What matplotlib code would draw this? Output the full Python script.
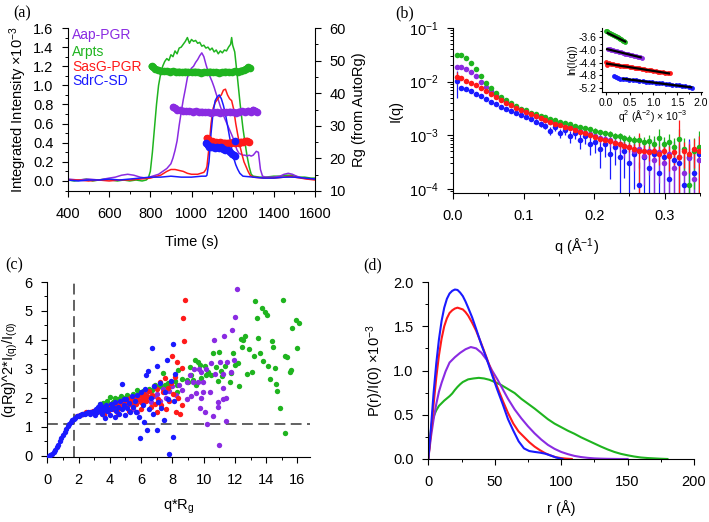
import matplotlib
matplotlib.use("Agg")
import matplotlib.pyplot as plt
import numpy as np
from matplotlib.ticker import MultipleLocator

plt.rcParams['font.family'] = ['Liberation Sans', 'DejaVu Sans']
plt.rcParams['mathtext.default'] = 'regular'
plt.rcParams['xtick.direction'] = 'out'
plt.rcParams['ytick.direction'] = 'out'

PURPLE = '#8a2be2'
GREEN = '#1fb41f'
RED = '#ff1a1a'
BLUE = '#1a1aff'

names = ['Aap-PGR', 'Arpts', 'SasG-PGR', 'SdrC-SD']
colors = [PURPLE, GREEN, RED, BLUE]

# ---------------- (a) elution profiles ----------------
t_green = [400, 430, 460, 490, 520, 550, 580, 610, 640, 670, 700, 730, 760, 780, 790, 800, 810, 820,
           830, 840, 850, 860, 870, 880, 890, 900, 910, 920, 930, 940, 950, 960, 970, 980, 990, 1000,
           1010, 1020, 1030, 1040, 1050, 1060, 1070, 1080, 1090, 1100, 1110, 1120, 1130, 1140, 1150,
           1160, 1170, 1180, 1190, 1195, 1200, 1210, 1220, 1236, 1250, 1260, 1270, 1280, 1290, 1300,
           1330, 1360, 1400, 1430, 1460, 1490, 1520, 1550, 1580, 1600]
i_green = [0.01, 0.0, 0.01, 0.02, 0.0, 0.01, 0.02, 0.01, 0.0, 0.01, 0.0, 0.01, 0.0, 0.01, 0.03, 0.1,
           0.3, 0.55, 0.8, 1.0, 1.12, 1.2, 1.25, 1.28, 1.26, 1.32, 1.3, 1.36, 1.33, 1.39, 1.4, 1.43,
           1.46, 1.5, 1.44, 1.48, 1.46, 1.47, 1.44, 1.45, 1.41, 1.42, 1.39, 1.4, 1.37, 1.39, 1.35,
           1.37, 1.33, 1.36, 1.34, 1.37, 1.36, 1.4, 1.43, 1.5, 1.42, 1.35, 1.15, 0.81, 0.55, 0.4,
           0.26, 0.15, 0.07, 0.05, 0.04, 0.04, 0.05, 0.05, 0.06, 0.06, 0.04, 0.04, 0.03, 0.03]

t_purple = [400, 450, 500, 550, 600, 630, 660, 690, 720, 750, 780, 810, 840, 860, 880, 900, 910, 920,
            930, 940, 950, 960, 970, 980, 990, 1000, 1010, 1020, 1030, 1040, 1050, 1060, 1070, 1080,
            1090, 1100, 1110, 1120, 1130, 1140, 1150, 1160, 1170, 1180, 1190, 1200, 1210, 1220, 1230,
            1240, 1250, 1260, 1270, 1280, 1290, 1300, 1315, 1325, 1335, 1345, 1360, 1400, 1430, 1450,
            1470, 1490, 1510, 1540, 1570, 1600]
i_purple = [0.02, 0.01, 0.02, 0.01, 0.03, 0.04, 0.06, 0.07, 0.06, 0.04, 0.03, 0.05, 0.07, 0.1, 0.13,
            0.18, 0.24, 0.32, 0.42, 0.58, 0.72, 0.85, 0.96, 1.08, 1.15, 1.18, 1.2, 1.24, 1.27, 1.31,
            1.34, 1.3, 1.22, 1.15, 1.09, 1.04, 0.98, 0.91, 0.85, 0.78, 0.72, 0.66, 0.61, 0.56, 0.51,
            0.46, 0.4, 0.33, 0.29, 0.28, 0.27, 0.27, 0.26, 0.27, 0.26, 0.27, 0.31, 0.3, 0.12, 0.05,
            0.04, 0.04, 0.05, 0.07, 0.08, 0.07, 0.05, 0.03, 0.02, 0.02]

t_red = [400, 450, 500, 550, 600, 650, 700, 750, 800, 850, 880, 900, 920, 940, 960, 980, 1000, 1030,
         1060, 1070, 1075, 1085, 1095, 1105, 1115, 1125, 1135, 1145, 1155, 1165, 1175, 1185, 1195,
         1205, 1215, 1225, 1235, 1245, 1255, 1265, 1275, 1285, 1300, 1350, 1400, 1450, 1480, 1500,
         1530, 1560, 1600]
i_red = [0.01, 0.01, 0.0, 0.01, 0.0, 0.01, 0.01, 0.02, 0.03, 0.06, 0.1, 0.12, 0.12, 0.11, 0.1, 0.08,
         0.07, 0.07, 0.09, 0.12, 0.15, 0.35, 0.6, 0.76, 0.82, 0.85, 0.88, 0.9, 0.95, 0.96, 0.9, 0.86,
         0.84, 0.75, 0.6, 0.48, 0.37, 0.28, 0.2, 0.15, 0.1, 0.06, 0.04, 0.03, 0.03, 0.04, 0.05, 0.04,
         0.03, 0.02, 0.01]

t_blue = [400, 450, 500, 550, 600, 650, 700, 750, 800, 850, 900, 950, 1000, 1050, 1070, 1075, 1085,
          1095, 1105, 1115, 1125, 1135, 1145, 1155, 1165, 1175, 1185, 1195, 1205, 1215, 1225, 1235,
          1250, 1300, 1350, 1400, 1450, 1500, 1550, 1600]
i_blue = [0.01, 0.0, 0.01, 0.01, 0.02, 0.01, 0.02, 0.03, 0.04, 0.04, 0.05, 0.04, 0.04, 0.05, 0.05,
          0.06, 0.2, 0.5, 0.72, 0.84, 0.88, 0.9, 0.86, 0.79, 0.7, 0.58, 0.46, 0.34, 0.24, 0.17, 0.12,
          0.08, 0.05, 0.04, 0.03, 0.03, 0.04, 0.04, 0.03, 0.02]

# Rg from AutoRg (right axis)
trg_green = [806, 815, 825, 835, 850, 865, 880, 895, 910, 925, 940, 955, 970, 985, 1000, 1015, 1030,
             1045, 1060, 1075, 1090, 1105, 1120, 1135, 1150, 1165, 1180, 1195, 1210, 1225, 1240, 1255,
             1265, 1275, 1284]
rg_green = [48.2, 47.9, 47.5, 47.2, 46.9, 46.7, 46.8, 46.6, 46.7, 46.5, 46.6, 46.4, 46.6, 46.5, 46.4,
            46.6, 46.5, 46.3, 46.5, 46.4, 46.6, 46.4, 46.5, 46.3, 46.4, 46.6, 46.5, 46.4, 46.7, 46.6,
            46.9, 47.1, 47.5, 47.9, 47.6]
trg_purple = [912, 920, 930, 945, 960, 975, 990, 1005, 1020, 1035, 1050, 1065, 1080, 1095, 1110, 1125,
              1140, 1155, 1170, 1185, 1200, 1215, 1230, 1245, 1260, 1275, 1290, 1300, 1310, 1320]
rg_purple = [35.8, 35.4, 35.0, 34.7, 34.6, 34.4, 34.5, 34.3, 34.4, 34.2, 34.3, 34.1, 34.2, 34.0, 34.2,
             34.1, 34.0, 34.2, 34.1, 34.3, 34.2, 34.0, 34.3, 34.5, 34.2, 34.6, 34.3, 34.9, 34.6, 34.2]
trg_red = [1074, 1082, 1090, 1100, 1110, 1120, 1130, 1140, 1150, 1160, 1170, 1180, 1190, 1200, 1210,
           1220, 1230, 1240, 1250, 1260, 1270, 1278]
rg_red = [26.2, 25.8, 25.4, 25.2, 25.0, 24.9, 24.8, 24.9, 24.7, 24.8, 24.6, 24.8, 24.7, 24.9, 24.8,
          25.0, 24.8, 25.1, 24.9, 25.2, 25.4, 25.0]
trg_blue = [1071, 1078, 1085, 1095, 1105, 1115, 1125, 1135, 1145, 1155, 1165, 1175, 1185, 1195, 1205,
            1212]
rg_blue = [24.6, 24.0, 23.6, 23.4, 23.6, 23.3, 23.5, 23.2, 23.4, 23.0, 22.7, 22.5, 22.0, 21.5, 21.0,
           20.6]

# ---------------- (b) scattering profiles (I in units of 1e-3) ----------------
q = [0.005, 0.012, 0.019, 0.026, 0.033, 0.040, 0.047, 0.054, 0.061, 0.068, 0.075, 0.082, 0.089,
     0.096, 0.103, 0.110, 0.117, 0.124, 0.131, 0.138, 0.145, 0.152, 0.159, 0.166, 0.173, 0.180,
     0.187, 0.194, 0.201, 0.208, 0.215, 0.222, 0.229, 0.236, 0.243, 0.250, 0.257, 0.264, 0.271,
     0.278, 0.285, 0.292, 0.299, 0.306, 0.313, 0.320, 0.327, 0.334, 0.341, 0.348]
iq_green = [31, 32, 28, 22.5, 17, 12.8, 9.6, 7.6, 6.2, 5.2, 4.5, 3.95, 3.5, 3.15, 2.9, 2.65, 2.45,
            2.3, 2.15, 2.0, 1.9, 1.8, 1.7, 1.6, 1.5, 1.45, 1.38, 1.3, 1.22, 1.16, 1.1, 1.05, 0.98,
            0.95, 0.88, 0.85, 0.8, 0.82, 0.74, 0.78, 0.7, 0.9, 0.68, 0.75, 0.6, 0.85, 0.55, 0.12,
            0.5, 0.6]
err_green = [1.5, 0.8, 0.5, 0.4, 0.3, 0.25, 0.2, 0.15, 0.12, 0.1, 0.1, 0.08, 0.08, 0.07, 0.07, 0.07,
             0.07, 0.07, 0.07, 0.07, 0.08, 0.08, 0.08, 0.09, 0.09, 0.1, 0.1, 0.1, 0.12, 0.12, 0.12,
             0.14, 0.14, 0.15, 0.15, 0.16, 0.18, 0.2, 0.2, 0.22, 0.25, 0.4, 0.25, 0.3, 0.3, 0.45,
             0.35, 0.3, 0.4, 0.6]
iq_purple = [18.5, 18.5, 17, 15, 12.5, 10, 8.0, 6.6, 5.6, 4.8, 4.2, 3.7, 3.3, 3.0, 2.7, 2.5, 2.3,
             2.1, 1.95, 1.8, 1.7, 1.6, 1.45, 1.4, 1.3, 1.2, 1.1, 1.05, 0.95, 0.9, 0.85, 0.8, 0.72,
             0.7, 0.62, 0.6, 0.5, 0.55, 0.42, 0.5, 0.35, 0.48, 0.3, 0.45, 0.25, 0.4, 0.2, 0.38, 0.15,
             0.35]
err_purple = [1.0, 0.6, 0.4, 0.3, 0.25, 0.2, 0.15, 0.12, 0.1, 0.1, 0.08, 0.08, 0.08, 0.08, 0.08,
              0.08, 0.09, 0.09, 0.1, 0.1, 0.1, 0.11, 0.12, 0.12, 0.13, 0.14, 0.15, 0.16, 0.17, 0.18,
              0.2, 0.2, 0.22, 0.24, 0.25, 0.26, 0.28, 0.3, 0.3, 0.32, 0.3, 0.35, 0.3, 0.4, 0.35, 0.45,
              0.3, 0.4, 0.35, 0.4]
iq_red = [12, 11.5, 10.5, 9.5, 8.6, 7.6, 6.7, 5.8, 5.1, 4.5, 4.0, 3.6, 3.25, 2.95, 2.7, 2.45, 2.25,
          2.1, 1.95, 1.8, 1.65, 1.55, 1.45, 1.35, 1.25, 1.15, 1.08, 1.0, 0.92, 0.87, 0.82, 0.77,
          0.72, 0.68, 0.64, 0.6, 0.56, 0.5, 0.52, 0.48, 0.5, 0.45, 0.5, 0.42, 0.48, 0.4, 0.5, 0.45,
          0.55, 0.5]
err_red = [3.0, 0.5, 0.3, 0.2, 0.15, 0.12, 0.1, 0.08, 0.07, 0.06, 0.05, 0.05, 0.05, 0.05, 0.05,
           0.05, 0.05, 0.05, 0.05, 0.05, 0.06, 0.06, 0.06, 0.06, 0.07, 0.07, 0.07, 0.08, 0.08, 0.08,
           0.09, 0.09, 0.1, 0.1, 0.11, 0.12, 0.12, 0.62, 0.14, 0.15, 0.16, 0.17, 0.18, 0.2, 0.2,
           1.55, 0.25, 0.25, 0.3, 0.45]
iq_blue = [10.5, 7.7, 7.2, 6.6, 6.0, 5.3, 4.7, 4.2, 3.8, 3.4, 3.1, 2.85, 2.6, 2.4, 2.2, 2.0, 1.8,
           1.6, 1.5, 1.2, 1.4, 1.1, 1.25, 0.95, 1.1, 0.8, 0.95, 0.7, 0.75, 0.55, 0.7, 0.45, 0.6,
           0.4, 0.5, 0.3, 0.45, 0.12, 0.4, 0.25, 0.45, 0.2, 0.4, 0.15, 0.35, 0.3, 0.12, 0.4, 0.2,
           0.45]
err_blue = [5.5, 0.7, 0.5, 0.4, 0.3, 0.25, 0.2, 0.18, 0.16, 0.15, 0.15, 0.15, 0.15, 0.15, 0.15,
            0.16, 0.17, 0.18, 0.2, 0.2, 0.22, 0.22, 0.24, 0.24, 0.25, 0.25, 0.26, 0.27, 0.28, 0.3,
            0.3, 0.3, 0.32, 0.32, 0.34, 0.3, 0.35, 0.2, 0.38, 0.3, 0.4, 0.3, 0.4, 0.3, 0.42, 0.4,
            0.3, 0.45, 0.35, 0.5]

# Guinier inset: q^2 (x1e-3) vs ln(I)
gq_green = [0.0, 0.02, 0.04, 0.06, 0.08, 0.10, 0.12, 0.14, 0.16, 0.18, 0.20, 0.22, 0.24, 0.26,
            0.28, 0.30, 0.32, 0.34, 0.36, 0.38, 0.40]
gl_green = [-3.38, -3.41, -3.44, -3.46, -3.47, -3.49, -3.50, -3.52, -3.53, -3.55, -3.56, -3.58,
            -3.60, -3.61, -3.63, -3.65, -3.66, -3.68, -3.70, -3.72, -3.74]
gq_purple = [0.03, 0.07, 0.11, 0.15, 0.19, 0.23, 0.27, 0.31, 0.35, 0.39, 0.43, 0.47, 0.51, 0.55,
             0.59, 0.63, 0.67, 0.71, 0.75]
gl_purple = [-3.96, -3.97, -3.99, -4.01, -4.03, -4.04, -4.06, -4.07, -4.09, -4.11, -4.12, -4.14,
             -4.15, -4.17, -4.19, -4.20, -4.22, -4.23, -4.25]
gq_red = [0.0, 0.02, 0.06, 0.1, 0.15, 0.2, 0.25, 0.3, 0.35, 0.4, 0.45, 0.5, 0.55, 0.6, 0.65, 0.7,
          0.75, 0.8, 0.85, 0.9, 0.95, 1.0, 1.05, 1.1, 1.15, 1.2, 1.25, 1.3, 1.35]
gl_red = [-4.39, -4.47, -4.42, -4.44, -4.45, -4.46, -4.47, -4.49, -4.50, -4.51, -4.52, -4.53,
          -4.55, -4.56, -4.57, -4.58, -4.59, -4.61, -4.62, -4.63, -4.64, -4.66, -4.67, -4.68,
          -4.69, -4.70, -4.72, -4.73, -4.74]
gq_blue = [0.17, 0.2, 0.24, 0.29, 0.35, 0.42, 0.49, 0.56, 0.63, 0.7, 0.77, 0.84, 0.91, 0.98, 1.05,
           1.12, 1.19, 1.26, 1.33, 1.4, 1.47, 1.54, 1.61, 1.68, 1.75, 1.82]
gl_blue = [-4.82, -4.85, -4.88, -4.92, -4.91, -4.93, -4.94, -4.95, -4.96, -4.97, -4.99, -5.00,
           -5.01, -5.02, -5.04, -5.05, -5.06, -5.07, -5.09, -5.10, -5.11, -5.12, -5.14, -5.15,
           -5.17, -5.19]
fit_x = [[0.03, 0.40], [0.02, 0.73], [0.02, 1.33], [0.36, 1.80]]
fit_y = [[-3.46, -3.73], [-3.97, -4.23], [-4.43, -4.74], [-4.91, -5.18]]

# ---------------- (c) dimensionless Kratky ----------------
k_green_x = [3.4, 3.58, 3.8, 4.0, 4.2, 4.3, 4.5, 4.7, 4.9, 5.1, 5.3, 5.5, 5.71, 5.9, 6.1, 6.3, 6.5,
             6.7, 6.88, 7.0, 7.2, 7.41, 7.5, 7.7, 7.9, 8.16, 8.27, 8.27, 8.37, 8.59, 8.91, 9.0, 9.12,
             9.22, 9.3, 9.44, 9.54, 9.65, 9.76, 9.86, 10.08, 10.18, 10.3, 10.5, 10.61, 10.82, 10.9,
             11.0, 11.14, 11.2, 11.36, 11.67, 11.74, 11.85, 12.0, 12.2, 12.25, 12.38, 12.42, 12.5,
             12.63, 12.8, 12.9, 13.06, 13.2, 13.27, 13.42, 13.48, 13.59, 13.7, 13.8, 13.9, 14.02,
             14.12, 14.23, 14.34, 14.45, 14.55, 14.62, 14.72, 14.87, 15.08, 15.19, 15.19, 15.34,
             15.55, 15.6, 15.68, 15.89, 16.0, 16.1]
k_green_y = [1.78, 1.83, 1.9, 2.02, 1.85, 2.0, 1.95, 2.05, 1.98, 2.1, 2.02, 2.15, 2.27, 2.18, 2.25,
             2.2, 2.32, 2.28, 2.45, 2.35, 2.4, 2.85, 2.45, 2.5, 2.42, 2.59, 2.45, 2.19, 2.97, 2.65,
             2.62, 2.55, 3.08, 2.79, 2.62, 3.31, 2.45, 3.23, 3.14, 2.7, 3.11, 2.79, 2.9, 2.79, 3.54,
             3.08, 2.6, 3.58, 2.93, 2.75, 3.11, 2.56, 2.85, 3.54, 3.14, 3.2, 2.42, 4.03, 3.74, 4.0,
             4.14, 2.82, 3.69, 2.91, 3.43, 5.35, 4.75, 4.08, 3.56, 5.1, 3.28, 4.98, 4.87, 3.11,
             2.65, 3.95, 3.75, 3.02, 2.48, 2.24, 1.64, 5.39, 3.46, 0.78, 3.42, 2.91, 2.95, 4.41,
             4.7, 3.72, 4.6]
k_purple_x = [5.0, 5.3, 5.5, 5.71, 5.9, 6.1, 6.24, 6.4, 6.6, 6.8, 7.0, 7.2, 7.4, 7.6, 7.8, 8.0, 8.2,
              8.4, 8.63, 8.91, 8.95, 9.12, 9.2, 9.33, 9.37, 9.5, 9.65, 9.7, 9.76, 9.86, 9.86, 9.97,
              9.97, 10.08, 10.18, 10.22, 10.4, 10.5, 10.61, 10.67, 10.71, 10.89, 10.93, 11.0, 11.03,
              11.21, 11.25, 11.25, 11.31, 11.42, 11.46, 11.5, 11.72, 11.78, 11.93, 12.01, 12.1]
k_purple_y = [1.75, 1.85, 1.62, 1.52, 1.9, 1.8, 2.21, 1.95, 1.85, 2.05, 2.15, 1.9, 2.3, 2.0, 2.25,
              2.4, 2.1, 2.45, 2.28, 1.96, 2.56, 2.79, 2.08, 2.56, 3.0, 2.16, 2.56, 3.0, 1.66, 2.01,
              2.88, 2.21, 2.56, 1.52, 3.0, 1.09, 2.19, 3.2, 1.38, 4.0, 2.82, 1.85, 1.7, 0.37, 3.25,
              1.96, 2.35, 2.82, 4.14, 2.01, 1.21, 3.23, 2.88, 4.35, 3.31, 4.78, 5.77]
k_red_x = [1.9, 2.1, 2.3, 2.5, 2.7, 2.9, 3.1, 3.2, 3.3, 3.4, 3.5, 3.6, 3.6, 3.7, 3.8, 3.9, 4.0, 4.1,
           4.2, 4.3, 4.4, 4.5, 4.5, 4.6, 4.7, 4.8, 4.9, 5.0, 5.1, 5.2, 5.2, 5.3, 5.4, 5.5, 5.6, 5.7,
           5.8, 5.9, 6.0, 6.0, 6.1, 6.2, 6.3, 6.4, 6.5, 6.6, 6.7, 6.8, 6.9, 7.0, 7.0, 7.1, 7.2, 7.3,
           7.4, 7.5, 7.6, 7.7, 7.8, 7.88, 7.95, 8.05, 8.14, 8.22, 8.27, 8.37, 8.48, 8.59, 8.59,
           8.69, 8.75, 8.8]
k_red_y = [1.38, 1.42, 1.45, 1.5, 1.52, 1.55, 1.58, 1.5, 1.62, 1.55, 1.68, 1.45, 1.4, 1.6, 1.72,
           1.55, 1.65, 1.78, 1.6, 1.7, 1.82, 1.62, 1.45, 1.75, 1.88, 1.68, 1.8, 1.92, 1.72, 1.85,
           1.55, 1.98, 1.75, 1.9, 2.02, 1.8, 1.95, 2.1, 1.85, 1.6, 2.0, 2.15, 1.9, 2.05, 2.25, 1.7,
           2.1, 2.4, 1.8, 2.3, 1.5, 1.95, 2.55, 1.75, 2.2, 2.7, 1.6, 2.35, 1.9, 2.5, 3.45, 2.15,
           2.73, 1.52, 3.23, 1.98, 1.43, 3.02, 1.75, 4.75, 3.97, 5.39]
k_blue_x = [0.1, 0.2, 0.3, 0.4, 0.5, 0.6, 0.7, 0.8, 0.9, 1.0, 1.1, 1.2, 1.3, 1.4, 1.5, 1.6, 1.7, 1.8,
            1.9, 2.0, 2.1, 2.2, 2.3, 2.4, 2.5, 2.6, 2.7, 2.8, 2.9, 3.0, 3.05, 3.1, 3.2, 3.25, 3.3,
            3.35, 3.4, 3.5, 3.55, 3.6, 3.7, 3.75, 3.8, 3.9, 4.0, 4.05, 4.1, 4.2, 4.3, 4.35, 4.4, 4.5,
            4.6, 4.65, 4.75, 4.8, 4.9, 4.9, 5.0, 5.05, 5.1, 5.2, 5.3, 5.4, 5.5, 5.6, 5.7, 5.75, 5.85,
            5.92, 6.0, 6.1, 6.18, 6.25, 6.31, 6.35, 6.45, 6.5, 6.6, 6.67, 6.75, 6.85, 7.0, 7.03, 7.1,
            7.2, 7.3, 7.46, 7.5, 7.63, 7.7, 7.78, 7.9, 8.01, 8.05, 8.1, 8.16]
k_blue_y = [0.01, 0.03, 0.07, 0.13, 0.2, 0.29, 0.39, 0.5, 0.61, 0.72, 0.83, 0.93, 1.02, 1.1, 1.17,
            1.23, 1.28, 1.32, 1.36, 1.39, 1.41, 1.43, 1.45, 1.46, 1.48, 1.5, 1.45, 1.52, 1.5, 1.55,
            1.42, 1.6, 1.5, 1.7, 1.55, 1.8, 1.62, 1.45, 1.68, 1.58, 1.3, 1.75, 1.55, 1.62, 1.4, 1.78,
            1.6, 1.68, 1.35, 1.85, 1.55, 1.7, 1.45, 1.9, 2.48, 1.6, 1.75, 1.95, 1.4, 1.95, 1.65, 1.82,
            1.5, 2.05, 1.7, 1.88, 1.52, 2.1, 1.35, 0.6, 2.2, 1.75, 1.18, 2.3, 2.79, 0.89, 2.93, 1.62,
            2.0, 3.72, 1.45, 2.4, 0.9, 3.11, 1.85, 2.5, 1.65, 1.25, 2.2, 3.31, 1.95, 0.05, 2.6, 3.85,
            0.66, 1.9, 2.82]

# ---------------- (d) pair distance distributions ----------------
r_purple = [0, 2, 4, 6, 8, 10, 13, 16, 20, 24, 28, 32, 36, 40, 44, 48, 52, 56, 60, 65, 70, 75, 80,
            85, 90, 95, 100, 105, 110, 115, 120, 125, 130, 135, 140, 145, 150]
p_purple = [0, 0.25, 0.45, 0.62, 0.76, 0.86, 0.99, 1.09, 1.15, 1.2, 1.24, 1.265, 1.25, 1.2, 1.12,
            1.0, 0.9, 0.79, 0.68, 0.56, 0.46, 0.37, 0.29, 0.22, 0.16, 0.115, 0.08, 0.055, 0.035,
            0.022, 0.013, 0.007, 0.004, 0.002, 0.001, 0.0, 0.0]
r_green = [0, 1, 2, 3, 4, 6, 8, 10, 12, 14, 16, 18, 20, 22, 24, 26, 28, 30, 34, 38, 42, 46, 50, 55,
           60, 65, 70, 75, 80, 85, 90, 95, 100, 105, 110, 115, 120, 125, 130, 135, 140, 145, 150,
           155, 160, 165, 170, 175, 180]
p_green = [0, 0.18, 0.33, 0.42, 0.48, 0.55, 0.6, 0.63, 0.66, 0.685, 0.71, 0.74, 0.78, 0.815, 0.845,
           0.87, 0.885, 0.9, 0.91, 0.917, 0.91, 0.895, 0.87, 0.835, 0.79, 0.745, 0.68, 0.625, 0.57,
           0.51, 0.45, 0.4, 0.36, 0.32, 0.285, 0.245, 0.21, 0.175, 0.14, 0.108, 0.08, 0.058, 0.042,
           0.028, 0.017, 0.011, 0.007, 0.003, 0.0]
r_red = [0, 2, 4, 6, 8, 10, 12, 14, 16, 18, 20, 22, 24, 26, 28, 30, 33, 36, 40, 44, 48, 52, 56, 60,
         64, 68, 72, 76, 80, 84, 88, 92, 96, 100, 104, 108]
p_red = [0, 0.3, 0.62, 0.92, 1.17, 1.36, 1.5, 1.59, 1.65, 1.68, 1.70, 1.71, 1.70, 1.69, 1.66, 1.62,
         1.54, 1.45, 1.30, 1.14, 0.97, 0.81, 0.66, 0.52, 0.4, 0.31, 0.25, 0.19, 0.14, 0.1, 0.065,
         0.04, 0.02, 0.01, 0.004, 0.0]
r_blue = [0, 2, 4, 6, 8, 10, 12, 14, 16, 18, 20, 22, 24, 26, 28, 30, 33, 36, 40, 44, 48, 52, 56, 60,
          64, 68, 72, 76, 80, 84, 88, 92, 96, 100, 101]
p_blue = [0, 0.35, 0.75, 1.08, 1.35, 1.56, 1.71, 1.81, 1.87, 1.9, 1.915, 1.91, 1.88, 1.84, 1.78,
          1.71, 1.6, 1.47, 1.29, 1.13, 0.95, 0.78, 0.62, 0.45, 0.32, 0.2, 0.12, 0.09, 0.08, 0.072,
          0.06, 0.04, 0.018, 0.003, 0.0]

W, H = 709, 522
fig = plt.figure(figsize=(W / 100, H / 100), dpi=100)


def box(l, r, t, b):
    return [l / W, 1 - b / H, (r - l) / W, (b - t) / H]


def style(ax, right=False):
    ax.spines['top'].set_visible(False)
    if not right:
        ax.spines['right'].set_visible(False)
    ax.tick_params(labelsize=10.5, length=4.5, width=0.8)
    ax.tick_params(axis='x', pad=7)
    ax.tick_params(axis='y', pad=6)
    ax.tick_params(which='minor', length=2.5, width=0.7)


TFS = 10.5
# ---- (a)
ax = fig.add_axes(box(68, 315, 28, 191))
ax2 = ax.twinx()
for t, v, c in [(t_green, i_green, GREEN), (t_purple, i_purple, PURPLE),
                (t_red, i_red, RED), (t_blue, i_blue, BLUE)]:
    ax.plot(t, v, color=c, lw=1.1)
for t, v, c in [(trg_green, rg_green, GREEN), (trg_purple, rg_purple, PURPLE),
                (trg_red, rg_red, RED), (trg_blue, rg_blue, BLUE)]:
    ax2.plot(t, v, color=c, lw=4.5, marker='o', ms=4.5, solid_capstyle='round')
ax2.plot([1212], [25.4], 'o', color=BLUE, ms=4.5)
ax.set_xlim(400, 1600)
ax.set_ylim(-0.105, 1.6)
ax2.set_ylim(10, 60)
ax.xaxis.set_major_locator(MultipleLocator(200))
ax.xaxis.set_minor_locator(MultipleLocator(100))
ax.yaxis.set_major_locator(MultipleLocator(0.2))
ax.yaxis.set_minor_locator(MultipleLocator(0.1))
ax2.yaxis.set_major_locator(MultipleLocator(10))
ax2.yaxis.set_minor_locator(MultipleLocator(5))
ax.yaxis.set_major_formatter(matplotlib.ticker.FormatStrFormatter('%.1f'))
style(ax)
style(ax2, right=True)
ax2.spines['left'].set_visible(False)
ax2.spines['bottom'].set_visible(False)
ax.set_xlabel('Time (s)', fontsize=TFS, labelpad=10)
ax.set_ylabel('Integrated Intensity ×10$^{-3}$', fontsize=TFS, labelpad=3)
ax2.set_ylabel('Rg (from AutoRg)', fontsize=TFS, labelpad=4)
for name, c, yy in zip(names, colors, [0.957, 0.853, 0.761, 0.675]):
    ax.text(0.016, yy, name, color=c, fontsize=10, transform=ax.transAxes, va='center')

# ---- (b)
bx = fig.add_axes(box(453, 700, 28, 193))
for qq, v, e, c in [(q, iq_blue, err_blue, BLUE), (q, iq_purple, err_purple, PURPLE),
                    (q, iq_green, err_green, GREEN), (q, iq_red, err_red, RED)]:
    bx.errorbar(qq, np.array(v) * 1e-3, yerr=np.array(e) * 1e-3, fmt='o', ms=4, color=c,
                ecolor=c, elinewidth=0.9, capsize=0, mew=0)
bx.set_yscale('log', nonpositive='clip')
bx.set_xlim(0, 0.35)
bx.set_ylim(8.4e-5, 0.1)
bx.xaxis.set_major_locator(MultipleLocator(0.1))
bx.xaxis.set_minor_locator(MultipleLocator(0.05))
bx.xaxis.set_major_formatter(matplotlib.ticker.FormatStrFormatter('%.1f'))
style(bx)
bx.set_xlabel('q (Å$^{-1}$)', fontsize=TFS, labelpad=10)
bx.set_ylabel('I(q)', fontsize=TFS, labelpad=4)

ix = fig.add_axes(box(602, 702, 28, 92))
for gx, gy, c in [(gq_green, gl_green, GREEN), (gq_purple, gl_purple, PURPLE),
                  (gq_red, gl_red, RED), (gq_blue, gl_blue, BLUE)]:
    ix.plot(gx, gy, 'o', color=c, ms=3.5, mew=0)
for fx, fy in zip(fit_x, fit_y):
    ix.plot(fx, fy, color='black', lw=1.6)
ix.set_xlim(-0.09, 2.03)
ix.set_ylim(-5.33, -3.3)
ix.patch.set_alpha(0)
ix.xaxis.set_major_locator(MultipleLocator(0.5))
ix.xaxis.set_minor_locator(MultipleLocator(0.25))
ix.yaxis.set_major_locator(MultipleLocator(0.4))
ix.yaxis.set_minor_locator(MultipleLocator(0.2))
ix.xaxis.set_major_formatter(matplotlib.ticker.FormatStrFormatter('%.1f'))
ix.yaxis.set_major_formatter(matplotlib.ticker.FormatStrFormatter('%.1f'))
style(ix)
ix.tick_params(labelsize=7.5, length=2.5, pad=1.5)
ix.tick_params(which='minor', length=1.5)
ix.set_xlabel('q$^2$ (Å$^{-2}$) × 10$^{-3}$', fontsize=7.5, labelpad=0)
ix.set_ylabel('ln(I(q))', fontsize=7.5, labelpad=1)

# ---- (c)
cx = fig.add_axes(box(47.3, 310, 282, 456.7))
for kx, ky, c in [(k_green_x, k_green_y, GREEN), (k_purple_x, k_purple_y, PURPLE),
                  (k_red_x, k_red_y, RED), (k_blue_x, k_blue_y, BLUE)]:
    cx.scatter(kx, ky, s=15, color=c, linewidths=0, zorder=3)
cx.axvline(np.sqrt(3), color='#555555', ls=(0, (6, 3)), lw=1.3, zorder=2)
cx.axhline(3 / np.e, color='#555555', ls=(0, (6, 3)), lw=1.3, zorder=2)
cx.set_xlim(0, 16.8)
cx.set_ylim(-0.03, 6)
cx.xaxis.set_major_locator(MultipleLocator(2))
cx.xaxis.set_minor_locator(MultipleLocator(1))
cx.yaxis.set_major_locator(MultipleLocator(1))
cx.yaxis.set_minor_locator(MultipleLocator(0.5))
style(cx)
cx.set_xlabel('q*R$_g$', fontsize=TFS, labelpad=8)
cx.set_ylabel('(qRg)^2*I$_{(q)}$/I$_{(0)}$', fontsize=TFS, labelpad=3)

# ---- (d)
dx = fig.add_axes(box(428.3, 694, 282, 459))
for rr, pp, c in [(r_green, p_green, GREEN), (r_purple, p_purple, PURPLE),
                  (r_red, p_red, RED), (r_blue, p_blue, BLUE)]:
    dx.plot(rr, pp, color=c, lw=1.5)
dx.set_xlim(0, 200)
dx.set_ylim(0, 2.0)
dx.xaxis.set_major_locator(MultipleLocator(50))
dx.xaxis.set_minor_locator(MultipleLocator(25))
dx.yaxis.set_major_locator(MultipleLocator(0.5))
dx.yaxis.set_minor_locator(MultipleLocator(0.25))
dx.yaxis.set_major_formatter(matplotlib.ticker.FormatStrFormatter('%.1f'))
style(dx)
dx.set_xlabel('r (Å)', fontsize=TFS, labelpad=8)
dx.set_ylabel('P(r)/I(0) ×10$^{-3}$', fontsize=TFS, labelpad=5)

for lab, x, y in [('(a)', 13, 13), ('(b)', 395, 13), ('(c)', 5, 265), ('(d)', 363, 265)]:
    fig.text(x / W, 1 - y / H, lab, fontsize=11.5, family='Liberation Serif', va='center')

fig.savefig('out.png', dpi=100)
